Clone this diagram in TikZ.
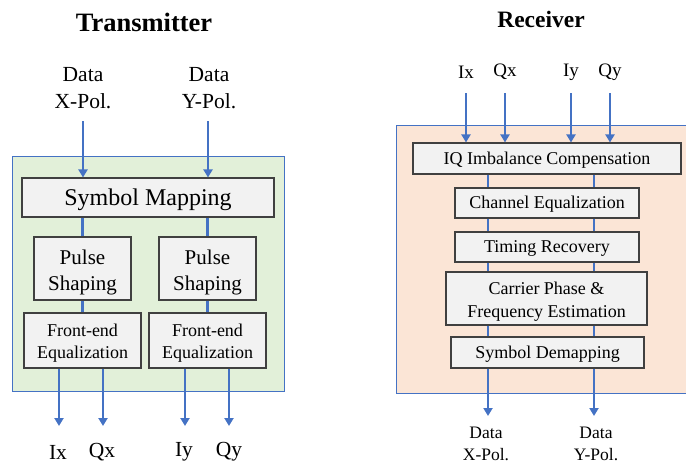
\documentclass[tikz,border=0pt]{standalone}
\usepackage{fontspec}
\setmainfont{Liberation Serif}
\usetikzlibrary{arrows.meta}
\definecolor{linkblue}{HTML}{4472C4}
\definecolor{txgreen}{HTML}{E2F0D9}
\definecolor{rxorange}{HTML}{FBE5D6}
\definecolor{boxfill}{HTML}{F2F2F2}
\definecolor{boxline}{HTML}{404040}
\newcommand{\tstr}{\rule{0pt}{0.89em}}
\newcommand{\tstrm}{\rule{0pt}{1.05em}}
\newcommand{\bstr}{\rule[-0.23em]{0pt}{0.23em}}
\tikzset{
  blk/.style={draw=boxline, fill=boxfill, line width=1.1pt, inner sep=0pt, align=center},
  arr/.style={draw=linkblue, line width=2.8pt, -{Triangle[length=8pt,width=9pt]}},
  ln/.style={draw=linkblue, line width=2.8pt},
  panel/.style={draw=linkblue, line width=1pt},
  lbl/.style={inner sep=0pt, align=center},
}
\begin{document}
\begin{tikzpicture}[x=1pt,y=-1pt]
\useasboundingbox (0,0) rectangle (686,466);
% ---------- Transmitter ----------
\node[lbl, font=\fontsize{26.5}{30}\selectfont\bfseries] (ttl) at (144,22) {Transmitter};
\filldraw[panel, fill=txgreen] (12,156) rectangle (284,391);
\node[lbl, font=\fontsize{21.5}{27}\selectfont] (dx) at (83,88) {Data\\X-Pol.};
\node[lbl, font=\fontsize{21.5}{27}\selectfont] (dy) at (209,88) {Data\\Y-Pol.};
\node[blk, minimum width=252pt, minimum height=39pt, font=\fontsize{24}{26}\selectfont] (sm) at (148,197.5) {\tstr Symbol Mapping\bstr};
\node[blk, minimum width=97pt, minimum height=63pt, font=\fontsize{21}{26}\selectfont] (ps1) at (82.5,268.5) {\tstrm Pulse\\Shaping\bstr};
\node[blk, minimum width=97pt, minimum height=63pt, font=\fontsize{21}{26}\selectfont] (ps2) at (207.5,268.5) {\tstrm Pulse\\Shaping\bstr};
\node[blk, minimum width=117pt, minimum height=55pt, font=\fontsize{18}{22}\selectfont] (fe1) at (82.5,340.5) {\tstrm Front-end\\Equalization\bstr};
\node[blk, minimum width=117pt, minimum height=55pt, font=\fontsize{18}{22}\selectfont] (fe2) at (207.5,340.5) {\tstrm Front-end\\Equalization\bstr};
\coordinate (dxs) at (83,121);
\coordinate (dys) at (208,121);
\draw[arr] (dxs) -- (sm.north -| dxs);
\draw[arr] (dys) -- (sm.north -| dys);
\draw[ln] (sm.south -| ps1) -- (ps1.north);
\draw[ln] (sm.south -| ps2) -- (ps2.north);
\draw[ln] (ps1.south) -- (fe1.north);
\draw[ln] (ps2.south) -- (fe2.north);
\coordinate (ixe) at (59,426);
\coordinate (qxe) at (103,426);
\coordinate (iye) at (185,426);
\coordinate (qye) at (229,426);
\draw[arr] (fe1.south -| ixe) -- (ixe);
\draw[arr] (fe1.south -| qxe) -- (qxe);
\draw[arr] (fe2.south -| iye) -- (iye);
\draw[arr] (fe2.south -| qye) -- (qye);
\node[lbl, font=\fontsize{21.5}{24}\selectfont] (tix) at (58,452) {Ix};
\node[lbl, font=\fontsize{21.5}{24}\selectfont] (tqx) at (102,452) {Qx};
\node[lbl, font=\fontsize{21.5}{24}\selectfont] (tiy) at (184,452) {Iy};
\node[lbl, font=\fontsize{21.5}{24}\selectfont] (tqy) at (229,452) {Qy};
% ---------- Receiver ----------
\node[lbl, font=\fontsize{23.5}{26}\selectfont\bfseries] (rttl) at (541,19) {Receiver};
\filldraw[panel, fill=rxorange] (396,125) rectangle (692,393);
\node[lbl, font=\fontsize{19}{22}\selectfont] (rix) at (466,72) {Ix};
\node[lbl, font=\fontsize{19}{22}\selectfont] (rqx) at (505,72) {Qx};
\node[lbl, font=\fontsize{19}{22}\selectfont] (riy) at (571,72) {Iy};
\node[lbl, font=\fontsize{19}{22}\selectfont] (rqy) at (610,72) {Qy};
\node[blk, minimum width=268pt, minimum height=31pt, font=\fontsize{18}{22}\selectfont] (iq) at (547,158.5) {\tstr IQ Imbalance Compensation\bstr};
\node[blk, minimum width=184pt, minimum height=30pt, font=\fontsize{18}{22}\selectfont] (ce) at (547,203) {\tstr Channel Equalization\bstr};
\node[blk, minimum width=184pt, minimum height=30pt, font=\fontsize{18}{22}\selectfont] (tr) at (547,247) {\tstr Timing Recovery\bstr};
\node[blk, minimum width=201pt, minimum height=53pt, font=\fontsize{18}{23}\selectfont] (cp) at (546.5,298.5) {\tstrm Carrier Phase \&\\Frequency Estimation\bstr};
\node[blk, minimum width=193pt, minimum height=31pt, font=\fontsize{18}{22}\selectfont] (sd) at (547.5,352.5) {\tstr Symbol Demapping\bstr};
\coordinate (a1) at (466,93);
\coordinate (a2) at (505,93);
\coordinate (a3) at (571,93);
\coordinate (a4) at (610,93);
\draw[arr] (a1) -- (iq.north -| a1);
\draw[arr] (a2) -- (iq.north -| a2);
\draw[arr] (a3) -- (iq.north -| a3);
\draw[arr] (a4) -- (iq.north -| a4);
\coordinate (cx) at (488,0);
\coordinate (cy) at (594,0);
\draw[ln] (iq.south -| cx) -- (ce.north -| cx);
\draw[ln] (iq.south -| cy) -- (ce.north -| cy);
\draw[ln] (ce.south -| cx) -- (tr.north -| cx);
\draw[ln] (ce.south -| cy) -- (tr.north -| cy);
\draw[ln] (tr.south -| cx) -- (cp.north -| cx);
\draw[ln] (tr.south -| cy) -- (cp.north -| cy);
\draw[ln] (cp.south -| cx) -- (sd.north -| cx);
\draw[ln] (cp.south -| cy) -- (sd.north -| cy);
\coordinate (ox) at (488,416);
\coordinate (oy) at (594,416);
\draw[arr] (sd.south -| ox) -- (ox);
\draw[arr] (sd.south -| oy) -- (oy);
\node[lbl, font=\fontsize{17.5}{22}\selectfont] (rdx) at (486,444) {Data\\X-Pol.};
\node[lbl, font=\fontsize{17.5}{22}\selectfont] (rdy) at (596,444) {Data\\Y-Pol.};
\end{tikzpicture}
\end{document}
